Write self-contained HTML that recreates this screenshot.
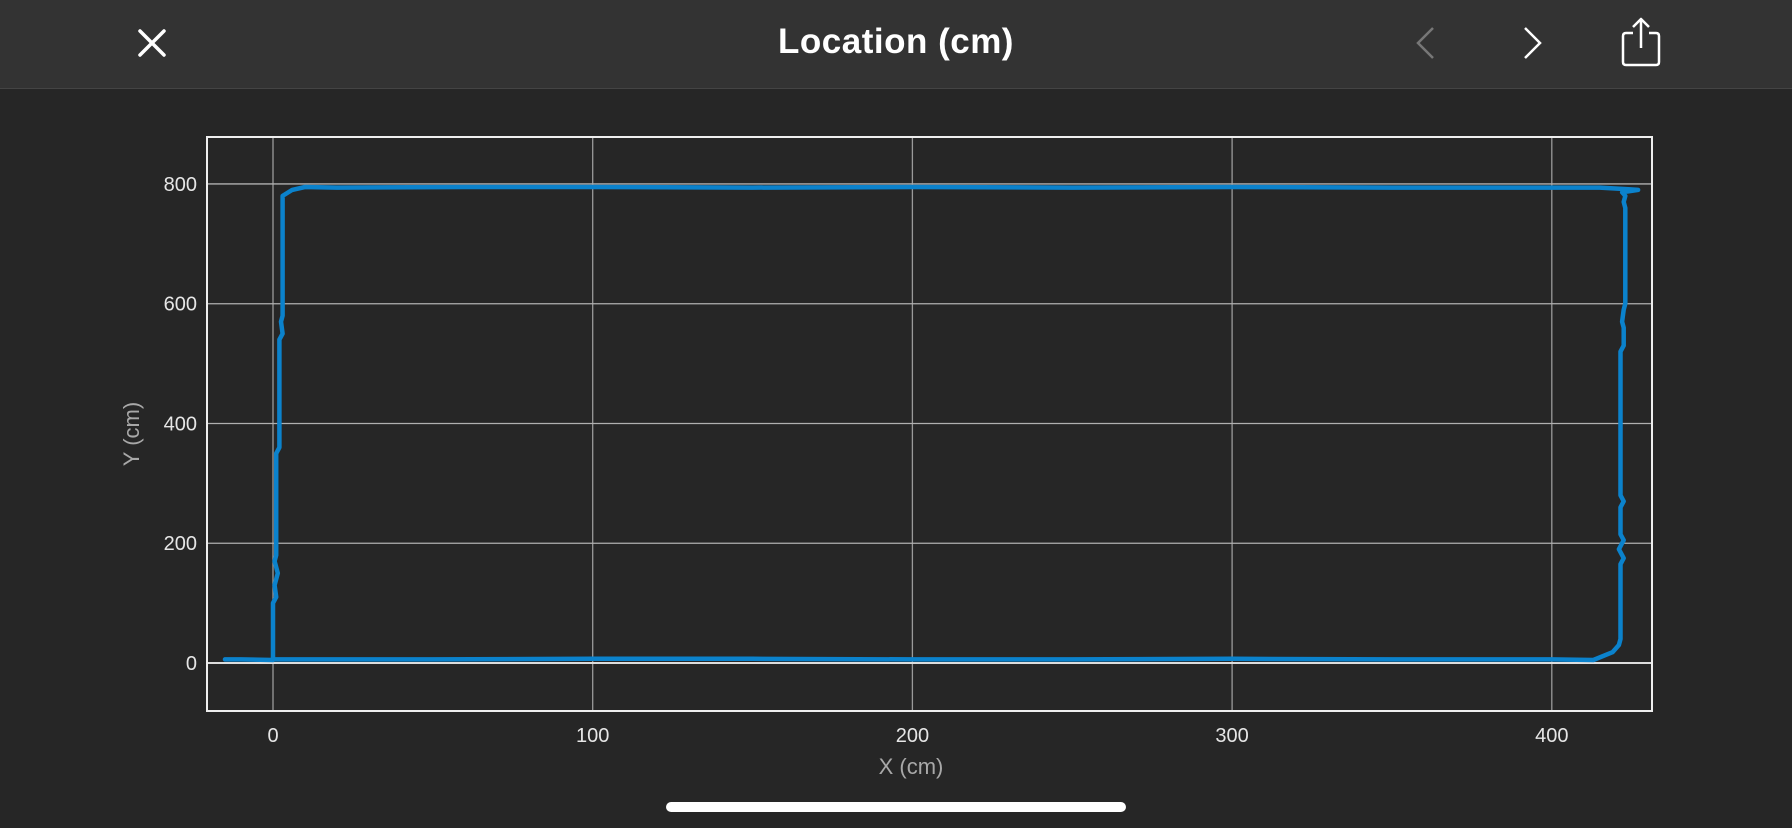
<!DOCTYPE html>
<html><head><meta charset="utf-8">
<style>
html,body{margin:0;padding:0;background:#262626;width:1792px;height:828px;overflow:hidden;font-family:"Liberation Sans",sans-serif}
#header{position:absolute;left:0;top:0;width:1792px;height:88px;background:#333333;border-bottom:1px solid #444}
#title{position:absolute;left:0;width:1792px;top:22px;text-align:center;color:#fff;font-weight:bold;font-size:35px;letter-spacing:0.5px}
#homebar{position:absolute;left:666px;top:802px;width:460px;height:10px;border-radius:5px;background:#fff}
</style></head><body>
<div id="header">
  <div id="title">Location (cm)</div>
  <svg style="position:absolute;left:0;top:0" width="1792" height="88">
    <g stroke="#fff" stroke-width="3.5" stroke-linecap="round">
      <line x1="140" y1="31" x2="164" y2="55"/><line x1="164" y1="31" x2="140" y2="55"/>
    </g>
    <polyline points="1433,28 1418,43 1433,58" fill="none" stroke="#777" stroke-width="2.5"/>
    <polyline points="1525,28 1540,43 1525,58" fill="none" stroke="#fff" stroke-width="2.5"/>
    <g fill="none" stroke="#fff" stroke-width="2.5" stroke-linejoin="round">
      <path d="M1633,33 H1626 Q1623,33 1623,36 V62 Q1623,65 1626,65 H1656 Q1659,65 1659,62 V36 Q1659,33 1656,33 H1649"/>
      <line x1="1641" y1="19" x2="1641" y2="48"/>
      <polyline points="1633,27 1641,19 1649,27"/>
    </g>
  </svg>
</div>
<svg id="chart" style="position:absolute;left:0;top:0" width="1792" height="828"></svg>
<div id="homebar"></div>
<script>
const xTicks=[0,100,200,300,400];
const yTicks=[0,200,400,600,800];
const pathX=[-15,-10,0,0,1,0.5,1.5,0.5,1,1,2,2,3,2.5,3,3,6,10,20,60,100,150,200,250,300,350,400,415,424,427,422,423,422.5,423,423,422.5,422,422.5,422.5,421.5,421.5,422.5,421.5,421.5,422.5,421,422.5,421.5,421.5,421,419,413,400,350,300,250,200,150,100,50,0];
const pathY=[6,6,5,100,110,130,150,170,180,350,360,540,550,570,580,780,790,795,794,795,795,794,795,794,795,794,794,794,791,790,786,780,770,760,600,590,570,560,530,520,280,270,260,215,205,190,175,165,40,30,18,5,6,6,7,6,6,7,7,6,6];
const ns="http://www.w3.org/2000/svg";
const svg=document.getElementById('chart');
const L=207,R=1652,T=137,B=711;
const sx=v=>273+v*3.197;
const sy=v=>663-v*0.5988;
function mk(tag,attrs){const e=document.createElementNS(ns,tag);for(const k in attrs)e.setAttribute(k,attrs[k]);svg.appendChild(e);return e;}
xTicks.forEach(t=>{
  const g=mk('line',{x1:sx(t),x2:sx(t),y1:T,y2:B,stroke:'#9a9a9a','stroke-width':1.3});
  
  
  const tx=mk('text',{x:sx(t),y:742,fill:'#e6e6e6','font-size':20,'text-anchor':'middle','font-family':'Liberation Sans, sans-serif'});
  tx.textContent=t;
  
  
});
yTicks.forEach(t=>{
  const g=mk('line',{x1:L,x2:R,y1:sy(t),y2:sy(t),stroke:t===0?'#dddddd':'#b0b0b0','stroke-width':t===0?2:1.3});
  
  
  const tx=mk('text',{x:197,y:sy(t)+7,fill:'#e6e6e6','font-size':20,'text-anchor':'end','font-family':'Liberation Sans, sans-serif'});
  tx.textContent=t;
  
  
});
const border=mk('rect',{x:L,y:T,width:R-L,height:B-T,fill:'none',stroke:'#eeeeee','stroke-width':2});


let d='';
pathX.forEach((v,i)=>{d+=(i?'L':'M')+sx(v).toFixed(1)+','+sy(pathY[i]).toFixed(1);});
const p=mk('path',{d:d,fill:'none',stroke:'#0b82cc','stroke-width':4.5,'stroke-linejoin':'round','stroke-linecap':'round'});


const xt=mk('text',{x:911,y:774,fill:'#a8a8a8','font-size':22,'text-anchor':'middle','font-family':'Liberation Sans, sans-serif'});
xt.textContent='X (cm)';


const yt=mk('text',{x:0,y:0,fill:'#a8a8a8','font-size':22,'text-anchor':'middle','font-family':'Liberation Sans, sans-serif',transform:'translate(139,434) rotate(-90)'});
yt.textContent='Y (cm)';


</script>
</body></html>
